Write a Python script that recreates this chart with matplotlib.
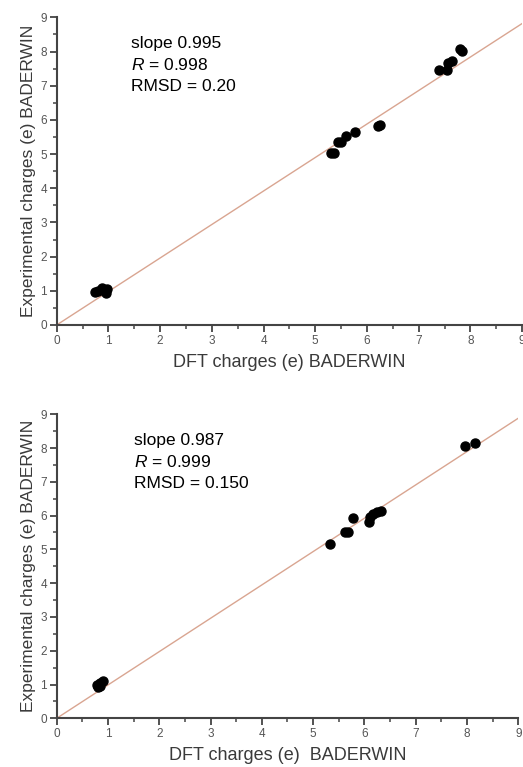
import matplotlib
matplotlib.use("Agg")
import matplotlib.pyplot as plt
from matplotlib.ticker import MultipleLocator

plt.rcParams['font.family'] = ['Liberation Sans', 'DejaVu Sans']
plt.rcParams['mathtext.fontset'] = 'custom'
plt.rcParams['mathtext.it'] = 'Liberation Sans:italic'
plt.rcParams['mathtext.rm'] = 'Liberation Sans'

# Panel 1 data
x1 = [0.74, 0.80, 0.87, 0.93, 0.95, 0.98,
      5.30, 5.36, 5.44, 5.50, 5.59, 5.76, 6.22, 6.25,
      7.40, 7.55, 7.57, 7.64, 7.79, 7.84]
y1 = [0.96, 0.99, 1.07, 1.02, 0.95, 1.04,
      5.02, 5.04, 5.36, 5.36, 5.54, 5.66, 5.82, 5.85,
      7.45, 7.46, 7.67, 7.73, 8.08, 8.02]
fit1 = 0.98

# Panel 2 data
x2 = [0.78, 0.81, 0.84, 0.90, 0.84,
      5.33, 5.63, 5.68, 5.78, 6.09, 6.11, 6.17, 6.25, 6.32,
      7.96, 8.15]
y2 = [0.99, 0.93, 1.04, 1.09, 0.96,
      5.15, 5.52, 5.52, 5.93, 5.82, 5.96, 6.04, 6.10, 6.15,
      8.07, 8.14]
fit2 = 0.987

ticks = list(range(10))
texts1 = ["slope 0.995", "$\\mathit{R}$ = 0.998", "RMSD = 0.20"]
texts2 = ["slope 0.987", "$\\mathit{R}$ = 0.999", "RMSD = 0.150"]
xlabel1 = "DFT charges (e) BADERWIN"
xlabel2 = "DFT charges (e)  BADERWIN"
ylabel = "Experimental charges (e) BADERWIN"

fig = plt.figure(figsize=(5.23, 7.67), dpi=100)
ax1 = fig.add_axes([0.1084, 0.5763, 0.8900, 0.4011])
ax2 = fig.add_axes([0.1084, 0.0635, 0.8826, 0.3964])

spine_c = '#444444'
tick_c = '#555555'
line_c = '#d9a591'

def style(ax, x, y, fit, texts, xlabel, tx, ty):
    ax.plot([0, 9], [0, 9 * fit], color=line_c, lw=1.0, zorder=1)
    ax.plot(x, y, 'o', color='black', ms=6.5, zorder=2)
    ax.set_xlim(0, 9)
    ax.set_ylim(0, 9)
    ax.set_xticks(ticks)
    ax.set_yticks(ticks)
    ax.xaxis.set_minor_locator(MultipleLocator(0.5))
    ax.yaxis.set_minor_locator(MultipleLocator(0.5))
    for s in ['top', 'right']:
        ax.spines[s].set_visible(False)
    for s in ['left', 'bottom']:
        ax.spines[s].set_color(spine_c)
        ax.spines[s].set_linewidth(1.5)
    ax.tick_params(which='major', direction='out', length=5, width=1.3,
                   color=spine_c, labelcolor=tick_c, labelsize=8.5, pad=2)
    ax.tick_params(which='minor', direction='out', length=3, width=1.1,
                   color=spine_c)
    ax.set_xlabel(xlabel, fontsize=13, color='#3a3a3a', labelpad=5)
    ax.set_ylabel(ylabel, fontsize=12.5, color='#3a3a3a', labelpad=3)
    for i, t in enumerate(texts):
        ax.text(tx, ty - i * 0.63, t, fontsize=12.5, color='black',
                va='center', ha='left')

style(ax1, x1, y1, fit1, texts1, xlabel1, 1.43, 8.24)
style(ax2, x2, y2, fit2, texts2, xlabel2, 1.51, 8.21)

fig.savefig("out.png", dpi=100)
